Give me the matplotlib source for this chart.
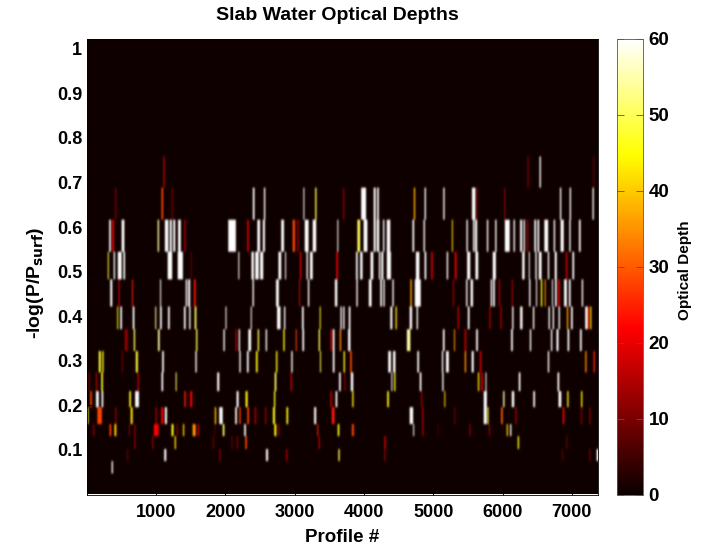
import numpy as np
import matplotlib
matplotlib.use("Agg")
import matplotlib.pyplot as plt
from matplotlib.cm import ScalarMappable
from matplotlib.colors import Normalize

plt.rcParams['font.family'] = ['Liberation Sans', 'DejaVu Sans']
plt.rcParams['font.weight'] = 'bold'

title = "Slab Water Optical Depths"
x_label = "Profile #"
cbar_label = "Optical Depth"
x_ticks = [1000, 2000, 3000, 4000, 5000, 6000, 7000]
y_ticks = [0.1, 0.2, 0.3, 0.4, 0.5, 0.6, 0.7, 0.8, 0.9, 1]
y_tick_labels = ["0.1", "0.2", "0.3", "0.4", "0.5", "0.6", "0.7", "0.8", "0.9", "1"]
cbar_ticks = [0, 10, 20, 30, 40, 50, 60]
profile_max = 7377
level_top = 1.023
background_depth = 0.5

# Each band: pressure-level range, then (profile, span in profiles, optical depth)
band_01_levels = (0.687, 0.757)
band_01 = [(1109,19,20),(6363,24,10),(6540,24,60),(7313,19,10)]
band_02_levels = (0.615, 0.687)
band_02 = [(413,19,10),(1085,29,28),(1229,19,12),(2405,29,60),(2563,24,60),(3129,19,60),(3302,19,48),(3705,19,15),
           (3992,86,60),(4150,38,60),(4198,29,60),(4726,24,38),(4880,24,60),(5153,24,60),(5580,58,60),(5628,14,14),
           (6027,19,14),(6833,24,60),(6977,24,60),(7304,19,60)]
band_03_levels = (0.543, 0.615)
band_03 = [(331,34,60),(374,29,22),(518,48,60),(1027,24,55),(1147,58,60),(1209,38,60),(1257,34,60),(1334,48,60),
           (1411,24,15),(2093,125,60),(2323,24,22),(2477,48,60),(2553,38,60),(2822,48,60),(2985,38,28),(3043,19,18),
           (3168,62,60),(3283,58,60),(3619,19,60),(3920,48,50),(4020,67,60),(4150,38,60),(4198,38,60),(4280,24,60),
           (4352,58,60),(4707,29,60),(4865,24,60),(5273,19,42),(5484,24,60),(5580,24,60),(5614,34,60),(5782,24,60),
           (5902,24,60),(6065,77,60),(6166,24,60),(6267,34,60),(6310,29,60),(6358,19,18),(6468,34,60),(6512,29,60),
           (6627,67,60),(6747,24,60),(6857,58,60),(6968,24,60),(7112,24,60)]
band_04_levels = (0.481, 0.543)
band_04 = [(307,19,48),(393,19,60),(470,62,60),(537,29,60),(1195,77,60),(1344,86,60),(1502,14,12),(2189,19,60),
           (2390,38,60),(2453,62,60),(2520,48,60),(2784,48,60),(2865,19,60),(3081,24,20),(3177,24,60),(3235,48,60),
           (3609,24,20),(3896,29,60),(3958,38,60),(4112,48,60),(4222,24,60),(4260,38,60),(4356,67,60),(4769,58,60),
           (4884,29,60),(4980,29,18),(5201,24,60),(5321,34,18),(5508,58,60),(5624,48,60),(5878,48,60),(6296,43,60),
           (6382,19,60),(6478,24,60),(6540,48,60),(6660,24,60),(6766,38,60),(6920,29,16),(7016,29,60)]
band_05_levels = (0.42, 0.481)
band_05 = [(350,34,60),(461,19,20),(657,19,25),(1061,19,60),(1435,24,60),(1473,38,60),(1555,29,24),(2395,24,60),
           (2745,48,60),(3067,14,25),(3197,24,60),(3595,38,60),(3896,24,60),(4088,48,60),(4246,29,60),(4284,24,60),
           (4414,24,60),(4678,24,38),(4774,96,60),(5288,19,16),(5480,24,60),(5552,38,60),(5835,19,60),(5873,24,60),
           (5950,19,14),(6137,19,16),(6392,24,60),(6488,14,60),(6560,29,45),(6612,19,36),(6718,19,60),(6766,29,60),
           (6814,29,20),(6905,48,60),(6968,29,60),(7150,24,60)]
band_06_levels = (0.369, 0.42)
band_06 = [(441,19,45),(489,29,60),(672,29,60),(989,19,55),(1065,29,60),(1181,29,60),(1411,29,60),(1483,19,60),
           (1565,29,50),(2006,19,60),(2371,19,60),(2769,58,60),(2851,24,60),(3115,29,60),(3365,19,46),(3667,24,60),
           (3708,24,60),(3790,29,60),(4390,34,60),(4462,24,42),(4673,38,60),(4764,24,60),(5360,29,14),(5508,29,60),
           (5816,24,14),(5974,24,14),(6147,24,60),(6267,43,60),(6444,24,60),(6670,24,60),(6728,24,60),(6814,24,60),
           (6934,24,36),(6996,29,60),(7208,38,60),(7232,24,24),(7270,19,42)]
band_07_levels = (0.32, 0.369)
band_07 = [(566,48,12),(681,24,50),(1037,29,55),(1584,24,50),(1977,24,60),(2150,24,12),(2198,24,60),(2347,43,60),
           (2472,24,50),(2587,29,60),(2841,24,46),(3019,19,28),(3120,29,60),(3350,24,50),(3523,38,12),(3561,29,60),
           (3657,24,35),(3785,43,60),(4640,58,55),(5148,34,60),(5302,19,36),(5460,34,14),(5628,29,60),(6132,29,60),
           (6401,24,60),(6704,24,60),(6790,38,60),(6948,29,60),(7126,29,60)]
band_08_levels = (0.272, 0.32)
band_08 = [(182,34,48),(230,24,45),(509,14,15),(720,34,48),(1094,29,60),(1574,24,60),(2208,24,60),(2318,29,60),
           (2448,29,45),(2736,24,45),(2957,29,60),(3369,19,50),(3561,29,60),(3713,24,45),(3809,29,28),(4366,43,60),
           (4433,38,60),(4779,29,60),(5129,24,60),(5201,48,60),(5460,19,35),(5566,34,60),(5681,34,15),(6660,29,60),
           (7198,24,34),(7318,24,25)]
band_09_levels = (0.23, 0.272)
band_09 = [(29,24,10),(134,29,12),(216,34,46),(739,38,12),(1085,29,60),(1286,19,50),(1891,34,60),(2721,29,50),
           (2947,19,18),(3648,29,60),(3718,19,14),(3824,38,60),(4400,19,60),(4443,24,46),(4812,29,60),(5134,24,60),
           (5652,24,42),(5700,34,16),(5758,19,60),(6243,29,60),(6804,29,60)]
band_10_levels = (0.194, 0.23)
band_10 = [(57,29,28),(149,48,60),(221,29,60),(619,29,46),(720,67,60),(1411,24,25),(1449,14,10),(1502,38,22),
           (2174,34,60),(2304,34,46),(2707,29,46),(3523,43,12),(3600,29,60),(3838,24,44),(4342,29,46),(4827,19,16),
           (5163,19,42),(5748,48,60),(6017,24,55),(6147,43,60),(6454,29,60),(6824,48,60),(6939,24,44),(7140,19,44)]
band_11_levels = (0.156, 0.194)
band_11 = [(9,19,46),(182,77,28),(413,24,12),(643,34,42),(998,29,14),(1085,38,20),(1137,34,60),(1853,24,40),
           (1934,58,60),(2150,34,60),(2208,24,28),(2323,29,28),(2429,29,13),(2577,24,12),(2697,34,46),(2889,34,45),
           (3293,38,60),(3552,48,24),(4683,58,60),(4846,24,16),(5307,19,10),(5748,48,60),(5787,19,46),(5988,29,30),
           (6190,19,14),(6876,29,20),(7136,19,14),(7256,19,14)]
band_12_levels = (0.129, 0.156)
band_12 = [(96,19,15),(336,24,28),(408,38,40),(609,19,12),(691,14,15),(998,86,22),(1233,34,46),(1301,14,14),
           (1392,24,40),(1545,48,35),(1603,29,15),(1843,14,8),(1968,29,50),(2280,29,60),(2717,34,45),(2765,24,12),
           (3331,19,25),(3629,29,46),(3838,34,28),(4712,19,60),(4846,19,14),(5067,14,8),(5528,19,14),(5806,19,14),
           (6065,24,40),(6113,24,60)]
band_13_levels = (0.1, 0.129)
band_13 = [(691,14,15),(950,19,15),(1272,24,42),(1824,24,8),(2093,14,14),(2169,14,14),(2294,29,28),(3350,14,20),
           (4299,24,20),(6224,24,46),(6924,14,14)]
band_14_levels = (0.073, 0.1)
band_14 = [(585,14,10),(1128,34,60),(1915,14,15),(2597,34,60),(2880,24,15),(3638,24,50),(4299,14,15),(6862,14,8),
           (7256,19,12),(7366,30,60)]
band_15_levels = (0.045, 0.073)
band_15 = [(365,24,60)]

bands = [
    (band_01_levels, band_01), (band_02_levels, band_02), (band_03_levels, band_03),
    (band_04_levels, band_04), (band_05_levels, band_05), (band_06_levels, band_06),
    (band_07_levels, band_07), (band_08_levels, band_08), (band_09_levels, band_09),
    (band_10_levels, band_10), (band_11_levels, band_11), (band_12_levels, band_12),
    (band_13_levels, band_13), (band_14_levels, band_14), (band_15_levels, band_15),
]

n_cols = 1476
n_rows = 1024
x_edges = np.linspace(1, profile_max, n_cols + 1)
y_edges = np.linspace(0, level_top, n_rows + 1)
depth = np.full((n_rows, n_cols), background_depth)
for (low, high), streaks in bands:
    r0, r1 = np.searchsorted(y_edges, [low, high])
    for profile, span, value in streaks:
        half = 0.85 * span / 2
        c0 = np.searchsorted(x_edges, profile - half)
        c1 = max(np.searchsorted(x_edges, profile + half), c0 + 1)
        depth[r0:r1, c0:c1] = np.maximum(depth[r0:r1, c0:c1], value)

norm = Normalize(vmin=0, vmax=60)
cmap = plt.get_cmap('hot')
rgba = cmap(norm(depth))


def soften(arr, sigma, axis):
    radius = int(4 * sigma)
    k = np.exp(-0.5 * (np.arange(-radius, radius + 1) / sigma) ** 2)
    k /= k.sum()
    pad = [(0, 0)] * arr.ndim
    pad[axis] = (radius, radius)
    padded = np.pad(arr, pad, mode='edge')
    return np.apply_along_axis(lambda v: np.convolve(v, k, mode='valid'), axis, padded)


# The reference is a soft, low-resolution scan: thin streaks fade to grey.
for ch in range(3):
    rgba[..., ch] = soften(soften(rgba[..., ch], 2.4, 1), 2.4, 0)

W, H = 701, 548
fig = plt.figure(figsize=(W / 100, H / 100), dpi=100, facecolor='white')
ax = fig.add_axes([87 / W, 1 - 494.5 / H, (598 - 87) / W, (494.5 - 38.5) / H])
ax.imshow(rgba, origin='lower', aspect='auto',
          extent=(1, profile_max, 0, level_top),
          interpolation='hanning', interpolation_stage='rgba')
ax.set_xlim(1, profile_max)
ax.set_ylim(0, level_top)
ax.set_xticks(x_ticks)
ax.set_yticks(y_ticks)
ax.set_yticklabels(y_tick_labels)
ax.tick_params(axis='x', direction='in', length=4, width=0.6, labelsize=13, pad=7, color='black')
ax.tick_params(axis='y', direction='in', length=4, width=0.6, labelsize=13, pad=3.6, color='black')
for s in ax.spines.values():
    s.set_linewidth(0.6)

fig.text(337.5 / W, 1 - 16 / H, title, fontsize=14, fontweight='bold', ha='center', va='center')
fig.text(342 / W, 1 - 538 / H, x_label, fontsize=13.5, fontweight='bold', ha='center', va='center')
fig.text(36 / W, 1 - 283 / H, r"-log(P/P$_{\mathbf{surf}}$)", fontsize=14, fontweight='bold',
         rotation=90, ha='center', va='center')
fig.text(685 / W, 1 - 270 / H, cbar_label, fontsize=11, fontweight='bold',
         rotation=90, ha='center', va='center')

cax = fig.add_axes([617 / W, 1 - 494.5 / H, (643 - 617) / W, (494.5 - 38.5) / H])
cb = fig.colorbar(ScalarMappable(norm=norm, cmap=cmap), cax=cax)
cb.set_ticks(cbar_ticks)
cax.tick_params(axis='y', direction='in', length=5, width=0.6, labelsize=13.5, pad=4, right=True, left=True, color='#555555')
cb.outline.set_linewidth(0.6)
cb.outline.set_edgecolor('#555555')

fig.savefig('out.png', dpi=100, facecolor='white')
